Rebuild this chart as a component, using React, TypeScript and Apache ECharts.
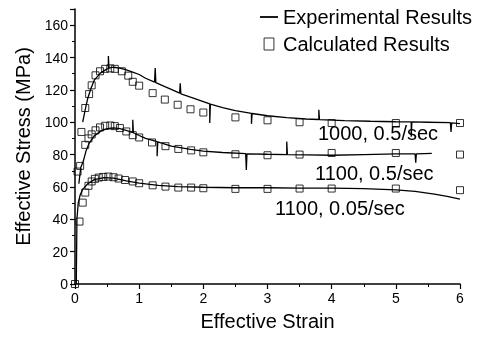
import React, { useEffect, useRef } from "react";
import * as echarts from "echarts";

const FONT = '"Liberation Sans", Arial, Helvetica, sans-serif';

// Experimental curves (strain, stress MPa) incl. visible noise spikes
const exp1000_05: number[][] = [
  [0.12, 100], [0.16, 108], [0.2, 115], [0.25, 121], [0.3, 126], [0.4, 130.5], [0.5, 133], [0.52, 133.2], [0.52, 141], [0.53, 133.4],
  [0.6, 134], [0.7, 133.5], [0.8, 132.3], [0.9, 131], [1.0, 129.5], [1.1, 127.2], [1.24, 124.8], [1.25, 133.5], [1.26, 124.5],
  [1.4, 122], [1.5, 120.3], [1.63, 118], [1.64, 124], [1.65, 117.6], [1.8, 115.5], [2.0, 112.8], [2.1, 111.3], [2.1, 99.6], [2.11, 111.2],
  [2.3, 109], [2.5, 107.2], [2.75, 105.5], [2.75, 99], [2.76, 105.4], [3.0, 104], [3.3, 102.8], [3.6, 102], [3.8, 101.7], [3.8, 107.7], [3.81, 101.6],
  [4.2, 101], [4.6, 100.6], [5.0, 100.3], [5.24, 100.2], [5.24, 91], [5.25, 100.2], [5.5, 100], [5.85, 99.7], [5.86, 94], [5.87, 99.6], [6.0, 99.2],
];
const exp1100_05: number[][] = [
  [0.06, 62], [0.09, 72], [0.13, 76], [0.17, 82], [0.22, 87], [0.3, 91.5], [0.4, 94.5], [0.5, 96], [0.6, 96.5], [0.7, 96], [0.85, 94.3],
  [0.9, 93.6], [0.9, 101.5], [0.91, 93.5], [1.0, 91.8], [1.1, 90], [1.28, 88], [1.28, 79], [1.29, 87.8], [1.5, 85.2], [1.8, 83.2], [2.0, 82.2],
  [2.3, 81.3], [2.66, 80.6], [2.67, 70.5], [2.68, 80.5], [3.0, 80.2], [3.3, 80], [3.3, 88], [3.31, 80], [3.6, 79.8], [4.0, 79.6], [4.5, 80],
  [5.0, 80.4], [5.3, 80.5], [5.31, 75], [5.32, 80.5], [5.56, 80.8],
];
const exp1100_005: number[][] = [
  [0.02, 0], [0.03, 40], [0.05, 50], [0.08, 55], [0.12, 58.5], [0.2, 62], [0.3, 64.5], [0.45, 65.8], [0.6, 65.5], [0.8, 63.8],
  [1.0, 62.3], [1.3, 61], [1.6, 60.2], [2.0, 59.8], [2.5, 59.5], [3.0, 59.5], [3.5, 59.3], [4.0, 59.3], [4.5, 59], [5.0, 58.2],
  [5.3, 57.2], [5.6, 55.6], [5.8, 54.2], [6.0, 52.5],
];

// Calculated results
const calc1000_05: number[][] = [
  [0.1, 94], [0.16, 108.8], [0.22, 117.4], [0.26, 122.8], [0.32, 129], [0.39, 131.5], [0.47, 133], [0.55, 133.3], [0.62, 133],
  [0.73, 131.5], [0.83, 128.8], [0.9, 125], [1.0, 122.6], [1.21, 118], [1.4, 114], [1.6, 110.8], [1.8, 108], [2.0, 106],
  [2.5, 103], [3.0, 101.2], [3.5, 100], [4.0, 99.5], [5.0, 99.5], [6.0, 99.5],
];
const calc1100_05: number[][] = [
  [0.04, 69.5], [0.08, 73], [0.16, 86], [0.21, 90], [0.26, 92.5], [0.32, 95], [0.39, 96.8], [0.47, 97.8], [0.55, 98], [0.62, 97.6],
  [0.7, 96.4], [0.8, 94.3], [0.9, 92], [1.0, 90.6], [1.2, 87.5], [1.41, 85.2], [1.61, 83.5], [1.81, 82.6], [2.0, 81.4],
  [2.5, 80.2], [3.0, 79.6], [3.5, 80], [4.0, 81], [5.0, 81], [6.0, 80],
];
const calc1100_005: number[][] = [
  [0, 0], [0.07, 38.6], [0.12, 50.3], [0.16, 56.5], [0.21, 60.7], [0.26, 63.4], [0.31, 65], [0.37, 65.8], [0.44, 66.2], [0.52, 66.4],
  [0.6, 66], [0.68, 65.2], [0.78, 64.3], [0.9, 63.4], [1.0, 62.3], [1.21, 61], [1.41, 60.2], [1.61, 59.6], [1.81, 59.6], [2.0, 59.2],
  [2.5, 58.8], [3.0, 58.8], [3.5, 59], [4.0, 59], [5.0, 59], [6.0, 58],
];

const curveLabels = ["1000, 0.5/sec", "1100, 0.5/sec", "1100, 0.05/sec"];
const legendNames = ["Experimental Results", "Calculated Results"];

export default function App() {
  const ref = useRef<HTMLDivElement>(null);
  useEffect(() => {
    if (!ref.current) return;
    const chart = echarts.init(ref.current, undefined, { renderer: "svg" });
    const lineSeries = [exp1000_05, exp1100_05, exp1100_005].map((d) => ({
      name: legendNames[0],
      type: "line",
      data: d,
      symbol: "none",
      lineStyle: { color: "#000", width: 1.3 },
      itemStyle: { color: "#000" },
      z: 2,
    }));
    const calcSeries = [calc1000_05, calc1100_05, calc1100_005].map((d) => ({
      name: legendNames[1],
      type: "scatter",
      data: d,
      symbol: "rect",
      symbolSize: 7,
      itemStyle: { color: "rgba(255,255,255,0)", borderColor: "#000", borderWidth: 1 },
      z: 3,
    }));
    chart.setOption({
      animation: false,
      textStyle: { fontFamily: FONT },
      grid: { left: 75, right: 22, top: 9, bottom: 53 },
      legend: {
        orient: "vertical",
        left: 255,
        top: 2,
        itemWidth: 18,
        itemHeight: 12,
        itemGap: 7,
        textStyle: { fontSize: 20, color: "#000", fontFamily: FONT },
        data: [
          { name: legendNames[0], icon: "path://M0,0L20,0L20,2L0,2Z", itemStyle: { color: "#000" } },
          {
            name: legendNames[1],
            icon: "path://M0,0L9,0L9,11L0,11Z",
            itemStyle: { color: "rgba(255,255,255,0)", borderColor: "#000", borderWidth: 1 },
          },
        ],
      },
      xAxis: {
        type: "value",
        min: 0,
        max: 6,
        interval: 1,
        name: "Effective Strain",
        nameLocation: "middle",
        nameGap: 27,
        nameTextStyle: { fontSize: 20, color: "#000", fontFamily: FONT },
        axisLine: { lineStyle: { color: "#000", width: 1.5 } },
        axisTick: { length: 5, lineStyle: { color: "#000", width: 1.2 } },
        minorTick: { show: true, splitNumber: 2, length: 3, lineStyle: { color: "#000", width: 1 } },
        axisLabel: { fontSize: 14, color: "#000", margin: 7, fontFamily: FONT },
        splitLine: { show: false },
      },
      yAxis: {
        type: "value",
        min: 0,
        max: 170,
        interval: 20,
        name: "Effective Stress (MPa)",
        nameLocation: "middle",
        nameGap: 42,
        nameTextStyle: { fontSize: 20, color: "#000", fontFamily: FONT },
        axisLine: { show: true, lineStyle: { color: "#000", width: 1.5 } },
        axisTick: { show: true, length: 5, lineStyle: { color: "#000", width: 1.2 } },
        minorTick: { show: true, splitNumber: 2, length: 3, lineStyle: { color: "#000", width: 1 } },
        axisLabel: { fontSize: 14, color: "#000", margin: 7, showMaxLabel: false, fontFamily: FONT },
        splitLine: { show: false },
      },
      graphic: [
        { type: "text", x: 318, y: 133, style: { text: curveLabels[0], font: `20px ${FONT}`, fill: "#000", verticalAlign: "middle" } },
        { type: "text", x: 315, y: 173, style: { text: curveLabels[1], font: `20px ${FONT}`, fill: "#000", verticalAlign: "middle" } },
        { type: "text", x: 275, y: 208, style: { text: curveLabels[2], font: `20px ${FONT}`, fill: "#000", verticalAlign: "middle" } },
      ],
      series: [...lineSeries, ...calcSeries],
    });
    return () => chart.dispose();
  }, []);
  return <div ref={ref} style={{ position: "fixed", left: 0, top: 0, width: 482, height: 337 }} />;
}
